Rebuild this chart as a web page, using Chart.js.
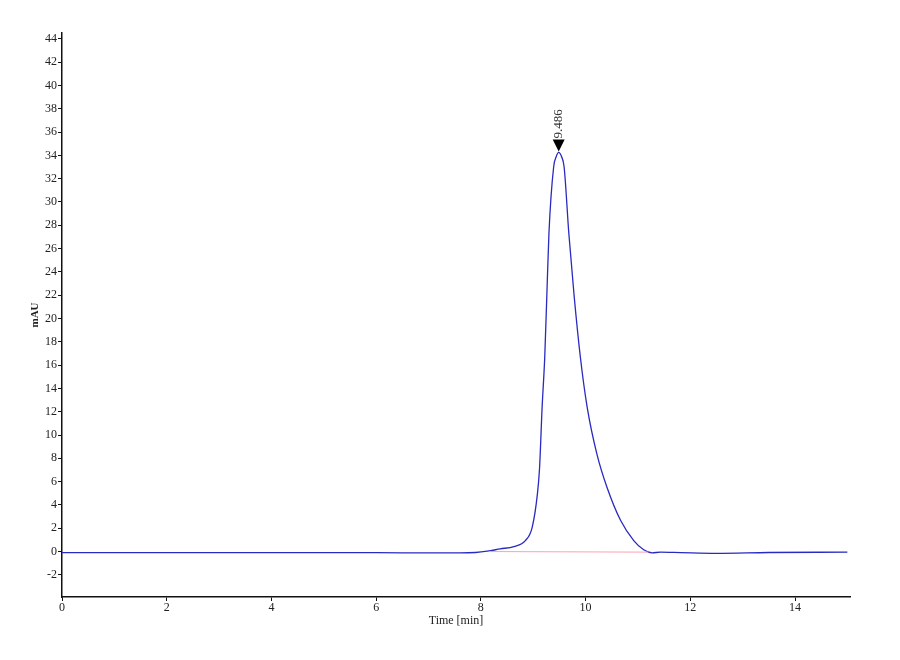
<!DOCTYPE html>
<html>
<head>
<meta charset="utf-8">
<title>Chromatogram</title>
<script src="https://cdn.jsdelivr.net/npm/chart.js@4.4.1/dist/chart.umd.min.js"></script>
<style>
    html, body { margin: 0; padding: 0; background: #ffffff; }
    #wrap { width: 900px; height: 660px; }
</style>
</head>
<body>
<div id="wrap"><canvas id="chart" width="900" height="660"></canvas></div>
<script>
// signal trace
const times = [0, 1, 2, 3, 4, 5, 6, 7, 7.6, 7.9, 8.12, 8.37, 8.63, 8.85, 8.98, 9.08, 9.12,
    9.17, 9.22, 9.26, 9.30, 9.39, 9.44, 9.486, 9.54, 9.59, 9.68, 9.78, 9.90, 10.03, 10.22,
    10.41, 10.67, 10.92, 11.11, 11.27, 11.43, 11.82, 12.5, 13.5, 15.0];
const absorbance = [-0.1, -0.1, -0.1, -0.1, -0.1, -0.1, -0.1, -0.12, -0.12, -0.08, 0.03, 0.23,
    0.43, 0.94, 2.08, 4.95, 7.1, 12.4, 16.7, 22.0, 27.3, 33.0, 33.9, 34.25, 33.9, 33.0, 27.3,
    22.0, 16.7, 12.4, 8.3, 5.5, 2.66, 0.94, 0.15, -0.11, -0.05, -0.09, -0.15, -0.08, -0.05];

// integration baseline under the peak
const baseTimes = [8.15, 11.2];
const baseValues = [0.0, -0.05];

// peak annotation
const peakTimes = [9.486];
const peakValues = [34.25];
const peakLabels = ["9.486"];

const xTicks = [0, 2, 4, 6, 8, 10, 12, 14];
const yTicks = [-2, 0, 2, 4, 6, 8, 10, 12, 14, 16, 18, 20, 22, 24, 26, 28, 30, 32, 34, 36, 38, 40, 42, 44];

const serif = "'Liberation Serif', 'DejaVu Serif', serif";

const toPoints = (xs, ys) => xs.map((x, i) => ({ x: x, y: ys[i] }));

// draws the down arrow and the rotated retention time above each peak
const peakMarker = {
    id: "peakMarker",
    afterDatasetsDraw(chart) {
        const ctx = chart.ctx;
        const xs = chart.scales.x;
        const ys = chart.scales.y;
        ctx.save();
        peakTimes.forEach((t, i) => {
            const px = xs.getPixelForValue(t);
            const py = ys.getPixelForValue(peakValues[i]) - 1;
            ctx.fillStyle = "#000000";
            ctx.beginPath();
            ctx.moveTo(px, py);
            ctx.lineTo(px - 6, py - 12);
            ctx.lineTo(px + 6, py - 12);
            ctx.closePath();
            ctx.fill();

            ctx.translate(px, py - 13);
            ctx.rotate(-Math.PI / 2);
            ctx.font = "13px " + serif;
            ctx.fillStyle = "#333333";
            ctx.textAlign = "left";
            ctx.textBaseline = "middle";
            ctx.fillText(peakLabels[i], 0, 0);
            ctx.setTransform(1, 0, 0, 1, 0, 0);
        });
        ctx.restore();
    },
};

new Chart(document.getElementById("chart"), {
    type: "line",
    data: {
        datasets: [
            {
                data: toPoints(baseTimes, baseValues),
                borderColor: "#ff9fb4",
                borderWidth: 1,
                pointRadius: 0,
                fill: false,
            },
            {
                data: toPoints(times, absorbance),
                borderColor: "#2a2ac0",
                borderWidth: 1.3,
                pointRadius: 0,
                cubicInterpolationMode: "monotone",
                fill: false,
            },
        ],
    },
    options: {
        responsive: false,
        animation: false,
        layout: { padding: { left: 20, right: 50, top: 33, bottom: 32 } },
        plugins: {
            legend: { display: false },
            tooltip: { enabled: false },
        },
        scales: {
            x: {
                type: "linear",
                min: 0,
                max: 15.05,
                afterBuildTicks: (scale) => {
                    scale.ticks = xTicks.map((v) => ({ value: v }));
                },
                afterFit: (scale) => {
                    scale.height = 31;
                },
                grid: {
                    display: true,
                    drawOnChartArea: false,
                    drawTicks: true,
                    tickLength: 4,
                    color: "#111111",
                },
                border: { display: true, color: "#111111", width: 1.5 },
                ticks: {
                    font: { size: 12, family: serif },
                    color: "#222222",
                    padding: 0,
                    maxRotation: 0,
                },
                title: {
                    display: true,
                    text: "Time [min]",
                    font: { size: 12, family: serif },
                    color: "#222222",
                    padding: { top: 0, bottom: 0 },
                },
            },
            y: {
                min: -3.9,
                max: 44.5,
                afterBuildTicks: (scale) => {
                    scale.ticks = yTicks.map((v) => ({ value: v }));
                },
                afterFit: (scale) => {
                    scale.width = 42;
                },
                grid: {
                    display: true,
                    drawOnChartArea: false,
                    drawTicks: true,
                    tickLength: 4,
                    color: "#111111",
                },
                border: { display: true, color: "#111111", width: 1.5 },
                ticks: {
                    font: { size: 12, family: serif },
                    color: "#222222",
                    padding: 1,
                },
                title: {
                    display: true,
                    text: "mAU",
                    font: { size: 11, weight: "bold", family: serif },
                    color: "#222222",
                    padding: { top: 9, bottom: 0 },
                },
            },
        },
    },
    plugins: [peakMarker],
});
</script>
</body>
</html>
